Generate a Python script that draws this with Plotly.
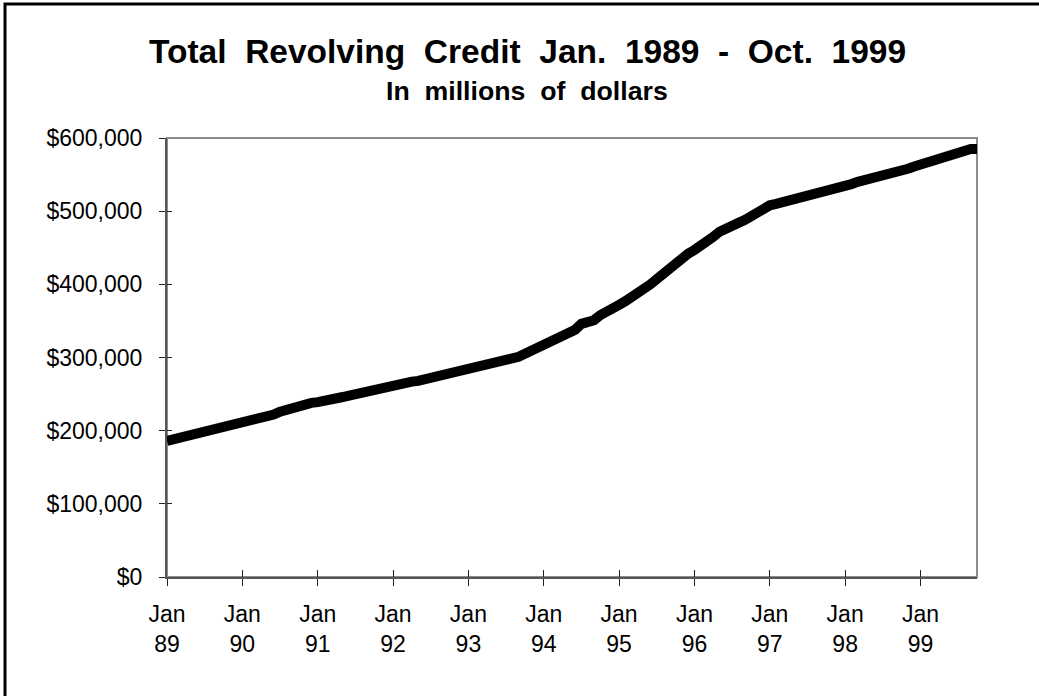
import plotly.graph_objects as go

# Monthly data, Jan 1989 .. Oct 1999 (millions of dollars)
month_labels = [f"{m} {y}" for y in range(1989, 2000) for m in
                ["Jan", "Feb", "Mar", "Apr", "May", "Jun", "Jul", "Aug", "Sep", "Oct", "Nov", "Dec"]][:130]

credit_1989 = [186000, 188000, 190000, 192000, 194000, 196000, 198000, 200000, 202000, 204000, 206000, 209000]
credit_1990 = [212000, 215000, 217000, 218000, 219000, 222000, 226000, 229000, 232000, 234000, 236000, 238000]
credit_1991 = [239000, 240000, 242000, 244000, 246000, 248000, 250000, 252000, 253000, 256000, 259000, 262000]
credit_1992 = [264000, 265000, 266000, 267000, 268000, 270000, 272000, 274000, 276000, 278000, 280000, 282000]
credit_1993 = [284000, 285000, 287000, 289000, 291000, 294000, 296000, 298000, 301000, 305000, 309000, 313000]
credit_1994 = [317000, 320000, 324000, 328000, 333000, 338000, 346000, 349000, 351000, 358000, 364000, 369000]
credit_1995 = [372000, 377000, 382000, 387000, 392000, 400000, 407000, 414000, 424000, 430000, 436000, 442000]
credit_1996 = [447000, 452000, 458000, 465000, 472000, 477000, 481000, 484000, 488000, 493000, 499000, 505000]
credit_1997 = [508000, 510000, 512000, 515000, 518000, 521000, 523000, 525000, 527000, 529000, 531000, 533000]
credit_1998 = [535000, 537000, 540000, 542000, 543000, 545000, 548000, 551000, 554000, 556000, 558000, 561000]
credit_1999 = [564000, 566000, 569000, 571000, 574000, 578000, 582000, 585000, 585000, 585000]

credit = (credit_1989 + credit_1990 + credit_1991 + credit_1992 + credit_1993 + credit_1994 +
          credit_1995 + credit_1996 + credit_1997 + credit_1998 + credit_1999)

x_tick_index = [0, 12, 24, 36, 48, 60, 72, 84, 96, 108, 120]
x_tick_text = ["Jan<br>89", "Jan<br>90", "Jan<br>91", "Jan<br>92", "Jan<br>93", "Jan<br>94",
               "Jan<br>95", "Jan<br>96", "Jan<br>97", "Jan<br>98", "Jan<br>99"]
y_tick_vals = [0, 100000, 200000, 300000, 400000, 500000, 600000]
y_tick_text = ["$0", "$100,000", "$200,000", "$300,000", "$400,000", "$500,000", "$600,000"]

title_text = "Total  Revolving  Credit  Jan.  1989  -  Oct.  1999"
subtitle_text = "In  millions  of  dollars"

FONT = "Arial, 'Liberation Sans', sans-serif"
x_idx = list(range(len(credit)))

PL, PR, PT, PB = 167, 977, 138, 577   # plot area in screen pixels
W, H = 1039, 696


def px_x(sx):
    return (sx - PL) / (PR - PL)


def px_y(sy):
    return (PB - sy) / (PB - PT)


fig = go.Figure()
fig.add_trace(go.Scatter(
    x=x_idx, y=credit, mode="lines",
    line=dict(color="black", width=10),
    text=month_labels, hoverinfo="text+y", showlegend=False,
))
# invisible companion trace to host the inner-tick overlay axes
fig.add_trace(go.Scatter(
    x=x_idx, y=credit, mode="none", xaxis="x2", yaxis="y2",
    hoverinfo="skip", showlegend=False,
))

xr = [0, len(credit) - 1]
yr = [0, 600000]

fig.update_layout(
    width=W, height=H, autosize=False,
    margin=dict(l=PL, r=W - PR, t=PT, b=H - PB),
    paper_bgcolor="white", plot_bgcolor="white",
    font=dict(family=FONT, color="black", size=23),
    xaxis=dict(
        range=xr, tickmode="array", tickvals=x_tick_index, ticktext=x_tick_text,
        ticks="outside", ticklen=7, tickwidth=1, tickcolor="#222",
        showline=True, linecolor="#555", linewidth=2,
        showgrid=False, zeroline=False, ticklabelstandoff=8,
        tickfont=dict(size=23, family=FONT, color="black"),
    ),
    yaxis=dict(
        range=yr, tickmode="array", tickvals=y_tick_vals, ticktext=y_tick_text,
        ticks="outside", ticklen=6, tickwidth=1, tickcolor="#222",
        showline=True, linecolor="#555", linewidth=2,
        showgrid=False, zeroline=False, ticklabelstandoff=12,
        tickfont=dict(size=23, family=FONT, color="black"),
    ),
    xaxis2=dict(
        range=xr, overlaying="x", side="bottom", tickmode="array", tickvals=x_tick_index,
        showticklabels=False, ticks="inside", ticklen=7, tickwidth=1, tickcolor="#222",
        showline=False, showgrid=False, zeroline=False,
    ),
    yaxis2=dict(
        range=yr, overlaying="y", side="left", tickmode="array", tickvals=y_tick_vals,
        showticklabels=False, ticks="inside", ticklen=5, tickwidth=1, tickcolor="#222",
        showline=False, showgrid=False, zeroline=False,
    ),
    shapes=[
        # plot-area frame (grey)
        dict(type="rect", xref="paper", yref="paper", x0=0, x1=1, y0=0, y1=1,
             line=dict(color="#8c8c8c", width=2), layer="below"),
        # outer figure frame (extends past right/bottom edges)
        dict(type="rect", xref="paper", yref="paper",
             x0=px_x(5), x1=px_x(1060), y0=px_y(720), y1=px_y(4),
             line=dict(color="black", width=3), layer="above"),
    ],
    annotations=[
        dict(text="<b>" + title_text + "</b>", xref="paper", yref="paper",
             x=px_x(527), y=px_y(72), xanchor="center", yanchor="bottom",
             showarrow=False, font=dict(size=33.5, family=FONT, color="black")),
        dict(text="<b>" + subtitle_text + "</b>", xref="paper", yref="paper",
             x=px_x(527), y=px_y(108), xanchor="center", yanchor="bottom",
             showarrow=False, font=dict(size=26.7, family=FONT, color="black")),
    ],
)

fig.write_html("out.html",
               config={"displayModeBar": False},
               post_script="document.body.style.margin='0';document.body.style.padding='0';")
